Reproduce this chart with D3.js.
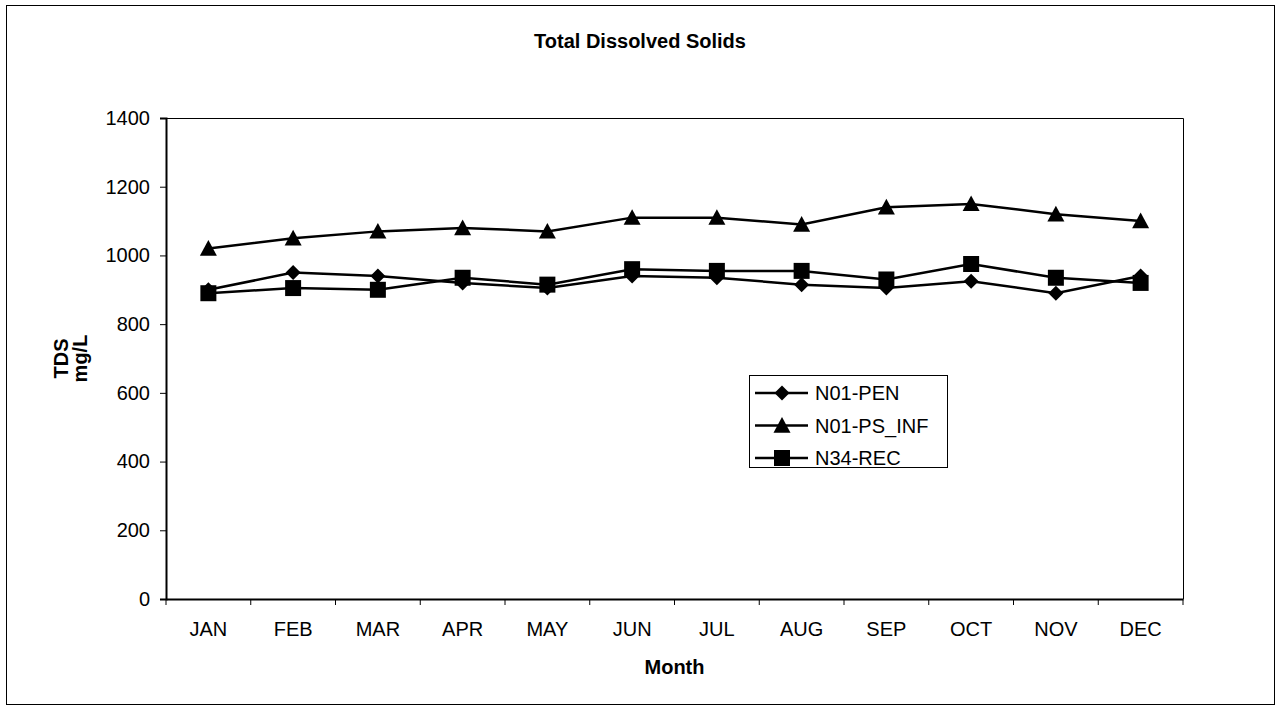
<!DOCTYPE html>
<html>
<head>
<meta charset="utf-8">
<script src="https://cdn.jsdelivr.net/npm/d3@7"></script>
<style>
  body { margin: 0; background: #fff; }
  text { font-family: "Liberation Sans", Arial, sans-serif; fill: #000; }
</style>
</head>
<body>
<div id="chart"></div>
<script>
var months = ["JAN", "FEB", "MAR", "APR", "MAY", "JUN", "JUL", "AUG", "SEP", "OCT", "NOV", "DEC"],
    seriesNames = ["N01-PEN", "N01-PS_INF", "N34-REC"],
    pen = [900, 950, 940, 920, 905, 940, 935, 915, 905, 925, 890, 940],
    psInf = [1020, 1050, 1070, 1080, 1070, 1110, 1110, 1090, 1140, 1150, 1120, 1100],
    rec = [890, 905, 900, 935, 915, 960, 955, 955, 930, 975, 935, 920],
    yTicks = [0, 200, 400, 600, 800, 1000, 1200, 1400]

var W = 1281, H = 711,
    plot = {left: 166, top: 118, right: 1183, bottom: 599}

// marker shapes, Excel style
var diamond = {draw: function(c, s) { c.moveTo(0, -s); c.lineTo(s, 0); c.lineTo(0, s); c.lineTo(-s, 0); c.closePath() }},
    triangle = {draw: function(c, s) { c.moveTo(0, -s); c.lineTo(s, s * 0.85); c.lineTo(-s, s * 0.85); c.closePath() }},
    square = {draw: function(c, s) { c.rect(-s, -s, 2 * s, 2 * s) }}

var series = [
    {name: seriesNames[0], values: pen, shape: diamond, size: 7.5},
    {name: seriesNames[1], values: psInf, shape: triangle, size: 8.5},
    {name: seriesNames[2], values: rec, shape: square, size: 8}
]

var svg = d3.select("#chart").append("svg")
    .attr("width", W)
    .attr("height", H)

svg.append("rect")
    .attr("x", 6.5).attr("y", 5.5)
    .attr("width", 1268).attr("height", 699)
    .style("fill", "none")
    .style("stroke", "#000")
    .style("stroke-width", 1)

var x = d3.scaleBand()
    .domain(months)
    .range([plot.left, plot.right])
    .padding(0)

var y = d3.scaleLinear()
    .domain([0, 1400])
    .range([plot.bottom, plot.top])

// plot frame (top and right)
svg.append("path")
    .attr("d", "M" + plot.left + "," + (plot.top + 0.5) + "H" + (plot.right + 0.5) + "V" + plot.bottom)
    .style("fill", "none")
    .style("stroke", "#000")
    .style("stroke-width", 1)

// y axis
var yAxis = svg.append("g")
    .attr("transform", "translate(" + plot.left + ",0)")
    .call(d3.axisLeft(y).tickValues(yTicks).tickSize(6).tickPadding(10).tickFormat(d3.format("d")))
yAxis.select(".domain").style("stroke-width", 2)
yAxis.selectAll("text")
    .style("font-size", "20px")
    .style("font-family", "Liberation Sans, Arial, sans-serif")

// x axis: labels centred in bands, ticks on band edges
var xAxis = svg.append("g")
    .attr("transform", "translate(0," + plot.bottom + ")")
    .call(d3.axisBottom(x).tickSize(0).tickPadding(23))
xAxis.select(".domain").style("stroke-width", 2)
xAxis.selectAll("text")
    .style("font-size", "20px")
    .style("font-family", "Liberation Sans, Arial, sans-serif")
xAxis.selectAll("line.edge")
    .data(months.map(function(m) { return x(m) }).concat([x.range()[1]]))
    .join("line")
    .attr("class", "edge")
    .attr("x1", function(d) { return d }).attr("x2", function(d) { return d })
    .attr("y1", 0).attr("y2", 6)
    .style("stroke", "#000")

// titles
svg.append("text")
    .attr("x", 640).attr("y", 48)
    .attr("text-anchor", "middle")
    .style("font-size", "20px")
    .style("font-weight", "bold")
    .text("Total Dissolved Solids")

svg.append("text")
    .attr("x", (plot.left + plot.right) / 2).attr("y", 674)
    .attr("text-anchor", "middle")
    .style("font-size", "20px")
    .style("font-weight", "bold")
    .text("Month")

var yTitle = svg.append("text")
    .attr("transform", "translate(0," + (plot.top + plot.bottom) / 2 + ") rotate(-90)")
    .attr("text-anchor", "middle")
    .style("font-size", "20px")
    .style("font-weight", "bold")
yTitle.append("tspan").attr("x", 0).attr("y", 68).text("TDS")
yTitle.append("tspan").attr("x", 0).attr("y", 87).text("mg/L")

// series
var line = d3.line()
    .x(function(d, i) { return x(months[i]) + x.bandwidth() / 2 })
    .y(function(d) { return y(d) })

var g = svg.selectAll("g.series")
    .data(series)
    .join("g")
    .attr("class", "series")

g.append("path")
    .attr("d", function(d) { return line(d.values) })
    .style("fill", "none")
    .style("stroke", "#000")
    .style("stroke-width", 2.5)

g.selectAll("path.marker")
    .data(function(d) { return d.values.map(function(v, i) { return {v: v, i: i, s: d} }) })
    .join("path")
    .attr("class", "marker")
    .attr("transform", function(d) { return "translate(" + (x(months[d.i]) + x.bandwidth() / 2) + "," + y(d.v) + ")" })
    .attr("d", function(d) { return d3.symbol(d.s.shape, d.s.size)() })
    .style("fill", "#000")

// legend
var legend = svg.append("g").attr("transform", "translate(749,375)")
legend.append("rect")
    .attr("x", 0.5).attr("y", 0.5)
    .attr("width", 198).attr("height", 92)
    .style("fill", "#fff")
    .style("stroke", "#000")
    .style("stroke-width", 1)

var row = legend.selectAll("g.row")
    .data(series)
    .join("g")
    .attr("class", "row")
    .attr("transform", function(d, i) { return "translate(0," + (18 + i * 32.5) + ")" })
row.append("line")
    .attr("x1", 6).attr("x2", 59)
    .style("stroke", "#000")
    .style("stroke-width", 2.5)
row.append("path")
    .attr("transform", "translate(33,0)")
    .attr("d", function(d) { return d3.symbol(d.shape, d.size)() })
    .style("fill", "#000")
row.append("text")
    .attr("x", 66).attr("dy", "0.36em")
    .style("font-size", "20px")
    .text(function(d) { return d.name })
</script>
</body>
</html>
